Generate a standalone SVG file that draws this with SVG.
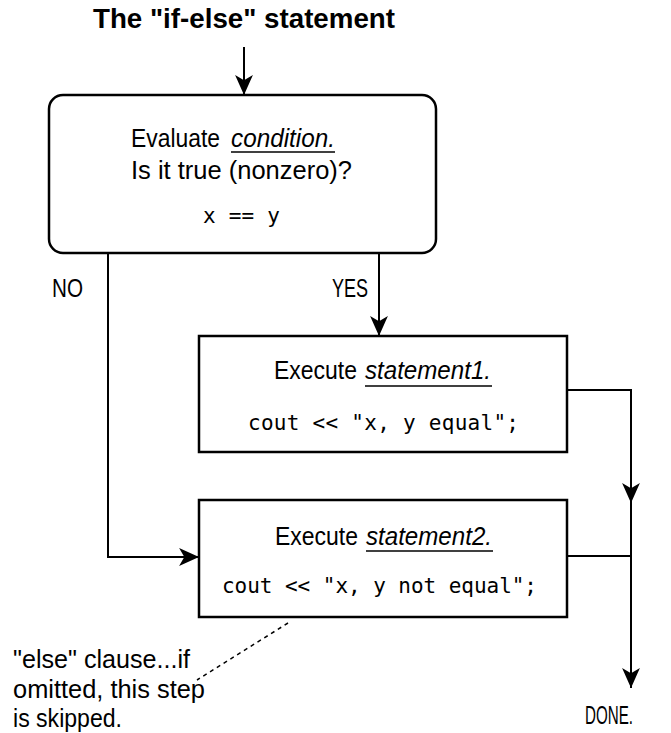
<svg xmlns="http://www.w3.org/2000/svg" width="671" height="733" viewBox="0 0 671 733">
  <style>
    .sans { font-family: "Liberation Sans", Arial, sans-serif; font-size: 25px; fill: #000; }
    .it { font-style: italic; }
    .mono { font-family: "DejaVu Sans Mono", "Liberation Mono", monospace; font-size: 21px; fill: #000; }
    .title { font-family: "Liberation Sans", Arial, sans-serif; font-size: 28px; font-weight: bold; fill: #000; }
    .box { fill: #fff; stroke: #000; stroke-width: 2.5; }
    .wire { fill: none; stroke: #000; stroke-width: 2; }
    .uline { stroke: #000; stroke-width: 1.5; }
  </style>
  <defs>
    <marker id="arrow" markerUnits="userSpaceOnUse" markerWidth="22" markerHeight="22" viewBox="-20 -10 21 20" refX="0" refY="0" orient="auto">
      <path d="M0,0 L-19,-8.5 L-14,0 L-19,8.5 Z" fill="#000"/>
    </marker>
  </defs>
  <rect width="671" height="733" fill="#fff"/>

  <text class="title" x="93" y="28" textLength="302" lengthAdjust="spacingAndGlyphs">The "if-else" statement</text>

  <g id="connectors">
    <path class="wire" d="M244,47 V95" marker-end="url(#arrow)"/>
    <path class="wire" d="M379,253 V336" marker-end="url(#arrow)"/>
    <path class="wire" d="M108,253 V557 H199" marker-end="url(#arrow)"/>
    <path class="wire" d="M567,390 H631 V503" marker-end="url(#arrow)"/>
    <path class="wire" d="M631,503 V688" marker-end="url(#arrow)"/>
    <path class="wire" d="M568,556 H631"/>
    <path d="M288,623 L197,680" fill="none" stroke="#000" stroke-width="1.5" stroke-dasharray="4 4"/>
  </g>

  <g id="condition">
    <rect class="box" x="49" y="95" width="387" height="158" rx="14" ry="14"/>
    <text class="sans" x="131" y="147" textLength="89" lengthAdjust="spacingAndGlyphs">Evaluate</text>
    <text class="sans it" x="231" y="147" textLength="104" lengthAdjust="spacingAndGlyphs">condition.</text>
    <line class="uline" x1="231" y1="152" x2="335" y2="152"/>
    <text class="sans" x="131" y="179" textLength="221" lengthAdjust="spacingAndGlyphs">Is it true (nonzero)?</text>
    <text class="mono" x="203" y="223" textLength="77">x == y</text>
  </g>

  <g id="statement1">
    <rect class="box" x="199" y="336" width="368" height="116"/>
    <text class="sans" x="274" y="379" textLength="83" lengthAdjust="spacingAndGlyphs">Execute</text>
    <text class="sans it" x="365" y="379" textLength="126" lengthAdjust="spacingAndGlyphs">statement1.</text>
    <line class="uline" x1="365" y1="386" x2="492" y2="386"/>
    <text class="mono" x="248" y="430" textLength="271">cout &lt;&lt; "x, y equal";</text>
  </g>

  <g id="statement2">
    <rect class="box" x="199" y="500" width="368" height="117"/>
    <text class="sans" x="275" y="545" textLength="83" lengthAdjust="spacingAndGlyphs">Execute</text>
    <text class="sans it" x="366" y="545" textLength="126" lengthAdjust="spacingAndGlyphs">statement2.</text>
    <line class="uline" x1="366" y1="551" x2="493" y2="551"/>
    <text class="mono" x="222" y="593" textLength="315">cout &lt;&lt; "x, y not equal";</text>
  </g>

  <g id="labels">
    <text class="sans" x="52" y="297" textLength="31" lengthAdjust="spacingAndGlyphs">NO</text>
    <text class="sans" x="332" y="297" textLength="36" lengthAdjust="spacingAndGlyphs">YES</text>
    <text class="sans" x="585" y="724" textLength="48" lengthAdjust="spacingAndGlyphs">DONE.</text>
  </g>

  <g id="note">
    <text class="sans" x="13" y="668" textLength="177" lengthAdjust="spacingAndGlyphs">"else" clause...if</text>
    <text class="sans" x="13" y="698" textLength="192" lengthAdjust="spacingAndGlyphs">omitted, this step</text>
    <text class="sans" x="13" y="727" textLength="109" lengthAdjust="spacingAndGlyphs">is skipped.</text>
  </g>
</svg>
